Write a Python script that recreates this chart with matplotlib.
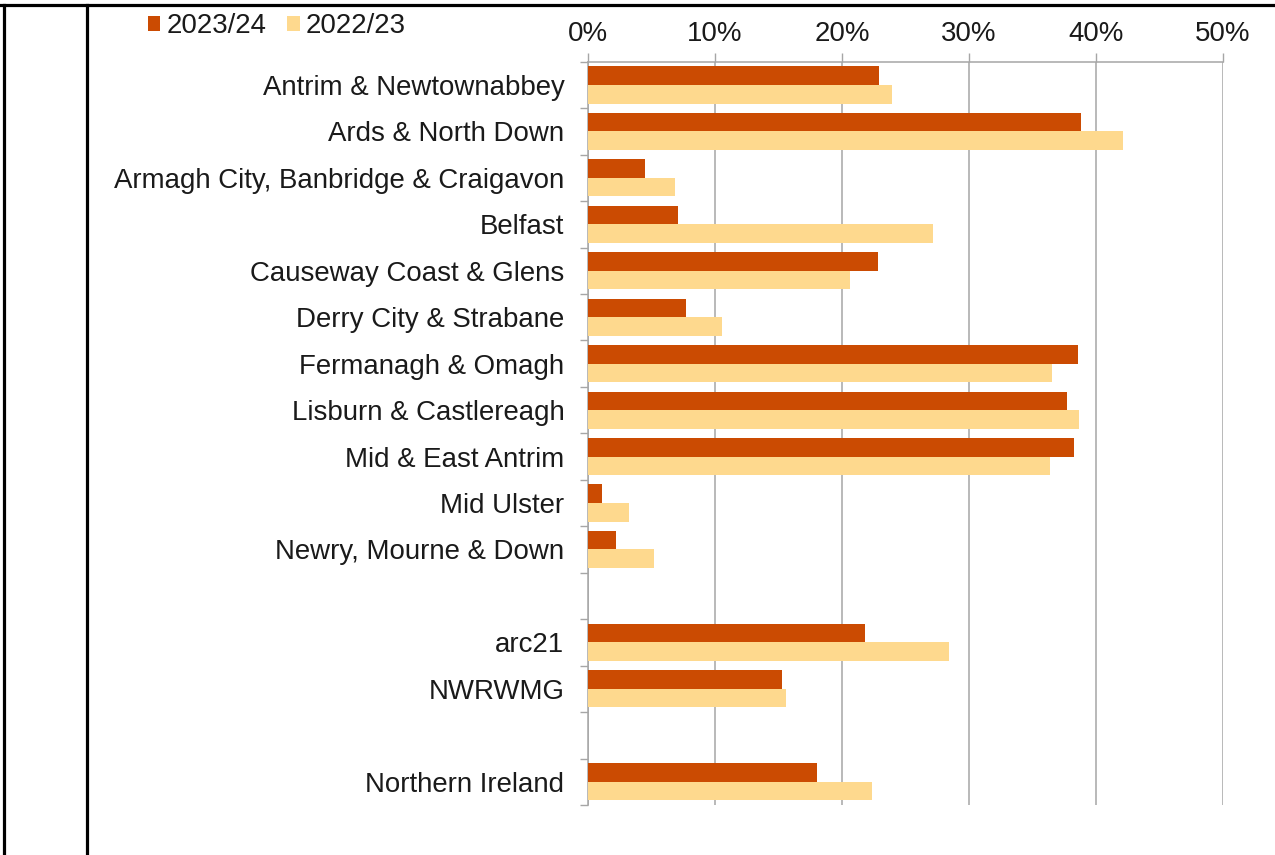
import numpy as np
import matplotlib
matplotlib.use("Agg")
import matplotlib.pyplot as plt
from matplotlib.lines import Line2D

plt.rcParams['font.family'] = ['Liberation Sans', 'DejaVu Sans']

# Categories (blank entries are spacer rows)
categories = [
    'Antrim & Newtownabbey',
    'Ards & North Down',
    'Armagh City, Banbridge & Craigavon',
    'Belfast',
    'Causeway Coast & Glens',
    'Derry City & Strabane',
    'Fermanagh & Omagh',
    'Lisburn & Castlereagh',
    'Mid & East Antrim',
    'Mid Ulster',
    'Newry, Mourne & Down',
    '',
    'arc21',
    'NWRWMG',
    '',
    'Northern Ireland',
]

# Values in %, NaN for spacer rows
values_2324 = [22.9, 38.8, 4.5, 7.1, 22.8, 7.7, 38.6, 37.7, 38.3, 1.1, 2.2,
               np.nan, 21.8, 15.3, np.nan, 18.0]
values_2223 = [23.9, 42.1, 6.85, 27.2, 20.6, 10.55, 36.5, 38.7, 36.4, 3.2, 5.2,
               np.nan, 28.4, 15.6, np.nan, 22.4]

series_labels = ['2023/24', '2022/23']
xticks = [0, 10, 20, 30, 40, 50]

dark = '#CB4B02'
light = '#FED98E'
grey = '#A6A6A6'
text_col = '#1a1a1a'
fs = 19.9

fig = plt.figure(figsize=(12.75, 8.55), dpi=100)
ax = fig.add_axes([588 / 1275, 1 - 805 / 855, (1223 - 588) / 1275, (805 - 61.7) / 855])

y = np.arange(len(categories))
h = 0.4
b1 = ax.barh(y - h / 2, values_2324, height=h, color=dark, label=series_labels[0], zorder=3)
b2 = ax.barh(y + h / 2, values_2223, height=h, color=light, label=series_labels[1], zorder=3)

ax.set_xlim(0, 50)
ax.set_ylim(len(categories) - 0.5, -0.5)

# x axis on top
ax.xaxis.tick_top()
ax.set_xticks(xticks)
ax.set_xticklabels([f'{t}%' for t in xticks], fontsize=fs, color=text_col)
ax.tick_params(axis='x', which='major', direction='out', length=6.5, width=1,
               color=grey, pad=4)
ax.grid(axis='x', color=grey, linewidth=1.1, zorder=0)

# category labels at centres, tick marks at row boundaries
ax.set_yticks(y)
ax.set_yticklabels(categories, fontsize=fs, color=text_col)
ax.tick_params(axis='y', which='major', length=0, pad=17)
ax.set_yticks(np.arange(len(categories) + 1) - 0.5, minor=True)
ax.tick_params(axis='y', which='minor', direction='out', length=6, width=1, color=grey)

for side in ['bottom', 'right']:
    ax.spines[side].set_visible(False)
for side in ['top', 'left']:
    ax.spines[side].set_color(grey)
    ax.spines[side].set_linewidth(1.1)

fig.legend(handles=[b1, b2], labels=series_labels, loc='center left',
           bbox_to_anchor=(148 / 1275, 1 - 26 / 855), ncol=2, frameon=False,
           fontsize=fs, handlelength=0.45, handleheight=0.45,
           handletextpad=0.22, columnspacing=0.75, borderpad=0, borderaxespad=0,
           labelcolor=text_col)

# page borders
fig.add_artist(Line2D([0, 1], [1 - 5 / 855, 1 - 5 / 855], color='black', linewidth=2.3))
fig.add_artist(Line2D([4 / 1275, 4 / 1275], [0, 1 - 5 / 855], color='black', linewidth=2.3))
fig.add_artist(Line2D([87 / 1275, 87 / 1275], [0, 1 - 5 / 855], color='black', linewidth=2.3))

fig.savefig('out.png', dpi=100)
